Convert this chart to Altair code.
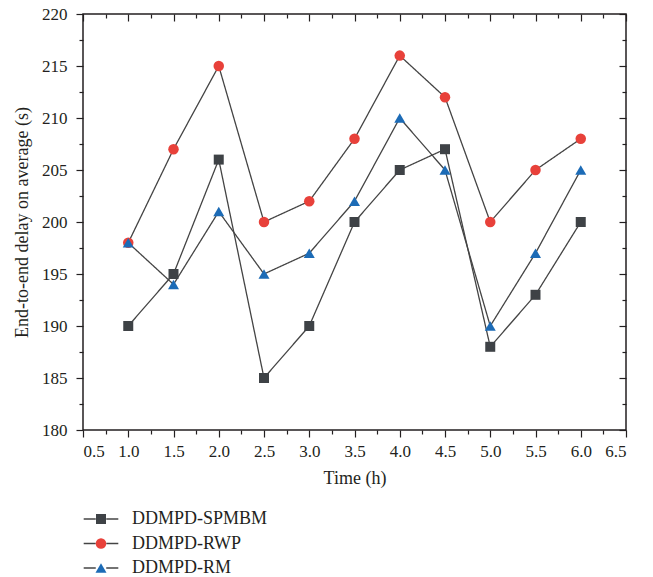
import altair as alt
import pandas as pd

# ---- data ----
time_h = [1.0, 1.5, 2.0, 2.5, 3.0, 3.5, 4.0, 4.5, 5.0, 5.5, 6.0]
spmbm = [190, 195, 206, 185, 190, 200, 205, 207, 188, 193, 200]
rwp = [198, 207, 215, 200, 202, 208, 216, 212, 200, 205, 208]
rm = [198, 194, 201, 195, 197, 202, 210, 205, 190, 197, 205]

series_names = ["DDMPD-SPMBM", "DDMPD-RWP", "DDMPD-RM"]
series_colors = ["#3e4246", "#e8413a", "#1c6bb6"]
series_shapes = ["square", "circle", "triangle-up"]

x_major = [0.5, 1.0, 1.5, 2.0, 2.5, 3.0, 3.5, 4.0, 4.5, 5.0, 5.5, 6.0, 6.5]
x_minor = [0.75, 1.25, 1.75, 2.25, 2.75, 3.25, 3.75, 4.25, 4.75, 5.25, 5.75, 6.25]
y_major = [180, 185, 190, 195, 200, 205, 210, 215, 220]
y_minor = [182.5, 187.5, 192.5, 197.5, 202.5, 207.5, 212.5, 217.5]

rows = []
for name, vals in zip(series_names, [spmbm, rwp, rm]):
    for t, v in zip(time_h, vals):
        rows.append({"time": t, "delay": v, "series": name, "series_line": name,
                     "order": series_names.index(name)})
df = pd.DataFrame(rows)

FONT = "Liberation Serif"
TXT = "#231f20"

xs = alt.Scale(domain=[0.5, 6.5], nice=False, zero=False)
ys = alt.Scale(domain=[180, 220], nice=False, zero=False)

LINE_PATH = "M-3.3,0H-1M1,0H3.3"
LEG_X = 9
LEG_Y = 496


def ax(**kw):
    base = dict(domain=False, grid=False, tickColor=TXT, tickWidth=1.2,
                labelFont=FONT, labelColor=TXT, titleFont=FONT, titleColor=TXT,
                titleFontWeight="normal")
    base.update(kw)
    return alt.Axis(**base)


base = alt.Chart(df)

lines = base.mark_line(color="#444444", strokeWidth=1.3).encode(
    x=alt.X("time:Q", scale=xs,
            axis=ax(orient="bottom", values=x_major, format=".1f", tickSize=7,
                    labelFontSize=17, labelPadding=6, title="Time (h)",
                    titleFontSize=18, titlePadding=10)),
    y=alt.Y("delay:Q", scale=ys,
            axis=ax(orient="left", values=y_major, format="d", tickSize=7,
                    labelFontSize=17, labelPadding=9,
                    title="End-to-end delay on average (s)",
                    titleFontSize=18, titlePadding=10)),
    strokeDash=alt.StrokeDash(
        "series_line:N",
        scale=alt.Scale(range=[[1, 0], [1, 0], [1, 0]]),
        legend=alt.Legend(orient="none", legendX=LEG_X, legendY=LEG_Y, title=None,
                          symbolType=LINE_PATH, symbolSize=110,
                          symbolStrokeColor="#444444", symbolStrokeWidth=1.3,
                          labelFont=FONT, labelFontSize=18, labelExpr="''",
                          labelOffset=22, rowPadding=6.5, padding=0),
    ),
)

points = base.mark_point(filled=True, opacity=1, strokeWidth=0).encode(
    x=alt.X("time:Q", scale=xs),
    y=alt.Y("delay:Q", scale=ys),
    color=alt.Color("series:N", scale=alt.Scale(domain=series_names, range=series_colors),
                    legend=alt.Legend(orient="none", legendX=LEG_X, legendY=LEG_Y, title=None,
                                      symbolSize=110, symbolStrokeWidth=0,
                                      labelFont=FONT, labelFontSize=18, labelColor=TXT,
                                      labelOffset=22, rowPadding=6.5, padding=0)),
    shape=alt.Shape("series:N", scale=alt.Scale(domain=series_names, range=series_shapes)),
    size=alt.Size("series:N", scale=alt.Scale(domain=series_names, range=[100, 121, 150]),
                  legend=None),
    order=alt.Order("order:Q"),
)

main = alt.layer(lines, points)


def axis_layer(xaxis, yaxis):
    return base.mark_point(opacity=0).encode(
        x=alt.X("time:Q", scale=xs, axis=xaxis),
        y=alt.Y("delay:Q", scale=ys, axis=yaxis),
    )


minor_bl = axis_layer(
    ax(orient="bottom", values=x_minor, labels=False, tickSize=4, title=None),
    ax(orient="left", values=y_minor, labels=False, tickSize=4, title=None),
)
major_tr = axis_layer(
    ax(orient="top", values=x_major, labels=False, tickSize=7, offset=-7, title=None),
    ax(orient="right", values=y_major, labels=False, tickSize=7, offset=-7, title=None),
)
minor_tr = axis_layer(
    ax(orient="top", values=x_minor, labels=False, tickSize=4, offset=-4, title=None),
    ax(orient="right", values=y_minor, labels=False, tickSize=4, offset=-4, title=None),
)

chart = alt.layer(main, minor_bl, major_tr, minor_tr).resolve_axis(
    x="independent", y="independent"
).properties(
    width=543, height=416,
    autosize=alt.AutoSizeParams(type="none"),
    padding={"left": 83, "top": 14, "right": 27, "bottom": 147},
    background="white",
).configure_view(stroke=TXT, strokeWidth=1.5)

chart.save("out.html", embed_options={"renderer": "svg", "actions": False})
